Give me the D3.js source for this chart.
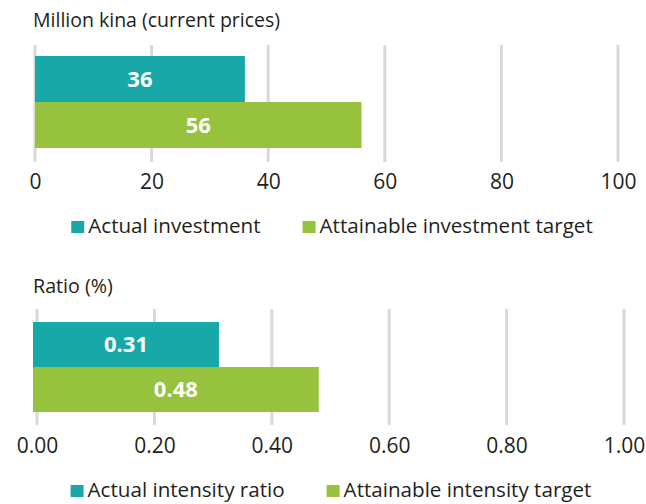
<!DOCTYPE html>
<html>
<head>
<meta charset="utf-8">
<script src="https://cdn.jsdelivr.net/npm/d3@7"></script>
<style>
  html, body { margin: 0; padding: 0; background: #fff; }
  svg { display: block; }
  text { font-family: "Open Sans", "Noto Sans", sans-serif; }
</style>
</head>
<body>
<svg id="chart" width="646" height="504"></svg>
<script>
// ---- Data ----
const investTitle = "Million kina (current prices)";
const investSeries = ["Actual investment", "Attainable investment target"];
const investValues = [36, 56];
const investLabels = ["36", "56"];
const investTicks = [0, 20, 40, 60, 80, 100];
const investTickLabels = ["0", "20", "40", "60", "80", "100"];

const ratioTitle = "Ratio (%)";
const ratioSeries = ["Actual intensity ratio", "Attainable intensity target"];
const ratioValues = [0.31, 0.48];
const ratioLabels = ["0.31", "0.48"];
const ratioTicks = [0, 0.2, 0.4, 0.6, 0.8, 1.0];
const ratioTickLabels = ["0.00", "0.20", "0.40", "0.60", "0.80", "1.00"];

const colors = ["#19a8a8", "#96c23d"];

const svg = d3.select("#chart");

function panel(cfg) {
  const g = svg.append("g");
  const x = d3.scaleLinear().domain([cfg.ticks[0], cfg.ticks[cfg.ticks.length - 1]]).range([cfg.x0, cfg.x1]);
  const y = d3.scaleBand().domain(cfg.series).range([cfg.barTop, cfg.barBottom]).padding(0);

  // title
  g.append("text").attr("x", cfg.titleX).attr("y", cfg.titleY)
    .attr("font-size", cfg.titleSize).attr("fill", "#231f20").text(cfg.title);

  // gridlines
  g.selectAll("line.grid").data(cfg.ticks).enter().append("line")
    .attr("class", "grid")
    .attr("x1", d => x(d)).attr("x2", d => x(d))
    .attr("y1", cfg.gridTop).attr("y2", cfg.gridBottom)
    .attr("stroke", "#d9d9d9").attr("stroke-width", 3);

  // bars
  g.selectAll("rect.bar").data(cfg.values).enter().append("rect")
    .attr("class", "bar")
    .attr("x", x(0) - cfg.barInset)
    .attr("y", (d, i) => y(cfg.series[i]))
    .attr("width", d => x(d) - x(0) + cfg.barInset)
    .attr("height", y.bandwidth())
    .attr("fill", (d, i) => colors[i]);

  // bar labels
  g.selectAll("text.blab").data(cfg.values).enter().append("text")
    .attr("class", "blab")
    .attr("x", d => (x(0) - cfg.barInset + x(d)) / 2)
    .attr("y", (d, i) => y(cfg.series[i]) + y.bandwidth() / 2)
    .attr("dy", "0.36em")
    .attr("text-anchor", "middle")
    .attr("font-size", 22).attr("font-weight", "bold").attr("fill", "#fff")
    .text((d, i) => cfg.labels[i]);

  // axis tick labels
  const axis = d3.axisBottom(x).tickValues(cfg.ticks)
    .tickFormat((d, i) => cfg.tickLabels[i]).tickSize(0).tickPadding(0);
  const ax = g.append("g").attr("transform", `translate(0,${cfg.axisY})`).call(axis);
  ax.select(".domain").remove();
  ax.selectAll("text").attr("font-size", 21).attr("fill", "#231f20")
    .attr("font-family", "\"Open Sans\", sans-serif").attr("dy", "0");

  // legend
  const lg = g.append("g");
  const items = lg.selectAll("g.item").data(cfg.series).enter().append("g").attr("class", "item");
  items.append("rect").attr("width", 13).attr("height", 12).attr("y", -12)
    .attr("fill", (d, i) => colors[i]);
  items.append("text").attr("x", 17).attr("y", 0)
    .attr("font-size", 20.6).attr("fill", "#231f20").text(d => d);
  let offs = [];
  let cur = 0;
  items.each(function () {
    offs.push(cur);
    const w = 17 + this.querySelector("text").getComputedTextLength();
    cur += w + 42;
  });
  const total = cur - 42;
  const start = cfg.legendCenter - total / 2;
  items.attr("transform", (d, i) => `translate(${start + offs[i]},${cfg.legendY})`);
}

panel({
  title: investTitle, series: investSeries, values: investValues, labels: investLabels,
  ticks: investTicks, tickLabels: investTickLabels,
  x0: 35, x1: 618, titleX: 33, titleY: 27, titleSize: 19.5,
  gridTop: 45, gridBottom: 162, barTop: 56, barBottom: 148, barInset: 0,
  axisY: 189, legendY: 233, legendCenter: 332
});

panel({
  title: ratioTitle, series: ratioSeries, values: ratioValues, labels: ratioLabels,
  ticks: ratioTicks, tickLabels: ratioTickLabels,
  x0: 37, x1: 624, titleX: 33, titleY: 293, titleSize: 19.7,
  gridTop: 309, gridBottom: 425, barTop: 322, barBottom: 412, barInset: 4,
  axisY: 453, legendY: 497, legendCenter: 331
});
</script>
</body>
</html>
